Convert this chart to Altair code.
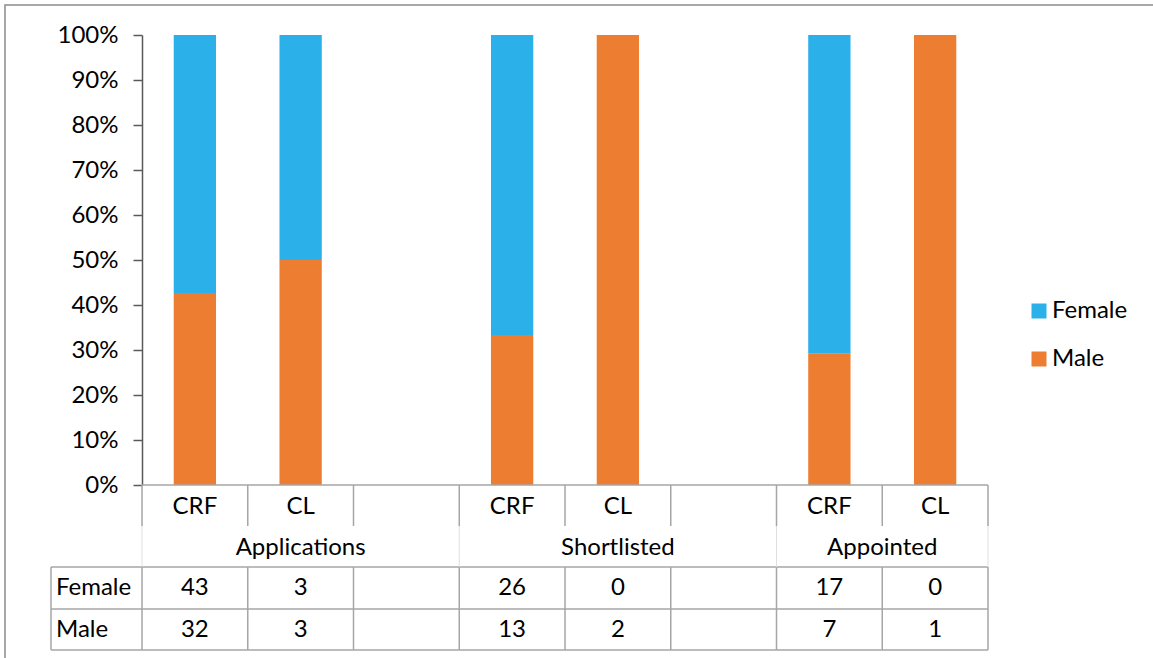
import altair as alt
import pandas as pd

# ---------------- data ----------------
groups = ["Applications", "Shortlisted", "Appointed"]
group_sizes = [3, 3, 2]
subcats = ["CRF", "CL", "", "CRF", "CL", "", "CRF", "CL"]
female = [43, 3, None, 26, 0, None, 17, 0]
male = [32, 3, None, 13, 2, None, 7, 1]
series = ["Female", "Male"]
series_colors = ["#2BB0EA", "#ED7D31"]
y_ticks = [0, 10, 20, 30, 40, 50, 60, 70, 80, 90, 100]

# ---------------- layout / style ----------------
FONT = "Lato"
FS = 24
TXT = "#000000"
GRID = "#a6a6a6"
FAINT = "#dedede"
PLOT_W, PLOT_H = 846, 450
PAD = {"left": 142, "top": 35, "right": 1153 - 142 - 846, "bottom": 658 - 35 - 450}
SLOTS = len(subcats)
UNIT_PX = PLOT_H / 100.0
LEFT_COL = -91 / (PLOT_W / SLOTS)      # left label column of the data table


def below(px):
    """pixels below the category axis -> y units"""
    return -px / UNIT_PX


row_edges = [below(0), below(41), below(82), below(124), below(165)]
sub_base = below(29)
grp_base = below(70)
row_base = [below(110), below(151.5)]

xs = alt.Scale(domain=[0, SLOTS], nice=False, zero=False)
ys = alt.Scale(domain=[0, 100], nice=False, zero=False)
y_axis = alt.Axis(
    values=y_ticks, labelExpr="datum.value + '%'", grid=False, title=None,
    domainColor="#595959", tickColor="#595959", tickSize=9, labelPadding=15,
    labelFontSize=FS, labelFont=FONT, labelColor=TXT, domainWidth=1.5, tickWidth=1.5)

# ---------------- bars ----------------
bar_rows = []
for i, (f, m) in enumerate(zip(female, male)):
    if f is None:
        continue
    tot = f + m
    mp = m / tot * 100
    bar_rows.append({"slot": i, "series": "Male", "y0": 0, "y1": mp})
    bar_rows.append({"slot": i, "series": "Female", "y0": mp, "y1": 100})
bars_df = pd.DataFrame(bar_rows)

bars = alt.Chart(bars_df).transform_calculate(
    xa="datum.slot + 0.3", xb="datum.slot + 0.7"
).mark_bar().encode(
    x=alt.X("xa:Q", scale=xs, axis=None),
    x2="xb:Q",
    y=alt.Y("y0:Q", scale=ys, axis=y_axis),
    y2="y1:Q",
    color=alt.Color("series:N", scale=alt.Scale(domain=series, range=series_colors),
                    legend=alt.Legend(orient="none", legendX=885, legendY=264, title=None,
                                      symbolType="square", symbolSize=225, symbolStrokeWidth=0,
                                      labelFontSize=FS, labelFont=FONT, labelColor=TXT,
                                      rowPadding=24, labelOffset=1, padding=0)),
)

# ---------------- table lines ----------------
segs = []
faint = []
segs.append({"x0": 0, "x1": SLOTS, "y0": row_edges[0], "y1": row_edges[0]})
for e in row_edges[2:]:
    segs.append({"x0": LEFT_COL, "x1": SLOTS, "y0": e, "y1": e})
for b in range(SLOTS + 1):
    segs.append({"x0": b, "x1": b, "y0": row_edges[0], "y1": row_edges[1]})
    segs.append({"x0": b, "x1": b, "y0": row_edges[2], "y1": row_edges[4]})
segs.append({"x0": LEFT_COL, "x1": LEFT_COL, "y0": row_edges[2], "y1": row_edges[4]})
gb = [0]
for s in group_sizes:
    gb.append(gb[-1] + s)
for b in gb:
    faint.append({"x0": b, "x1": b, "y0": row_edges[1], "y1": row_edges[2]})


def rule_layer(df, color, w):
    return alt.Chart(pd.DataFrame(df)).mark_rule(color=color, strokeWidth=w).encode(
        x=alt.X("x0:Q", scale=xs, axis=None), x2="x1:Q",
        y=alt.Y("y0:Q", scale=ys, axis=y_axis), y2="y1:Q")


lines = rule_layer(segs, GRID, 1.5)
faint_lines = rule_layer(faint, FAINT, 1)

# ---------------- table texts ----------------
txt = []
for i, s in enumerate(subcats):
    if s:
        txt.append({"x": i + 0.5, "y": sub_base, "t": s})
for g, a, b in zip(groups, gb[:-1], gb[1:]):
    txt.append({"x": (a + b) / 2, "y": grp_base, "t": g})
for r, vals in enumerate([female, male]):
    for i, v in enumerate(vals):
        if v is not None:
            txt.append({"x": i + 0.5, "y": row_base[r], "t": str(v)})

center_txt = alt.Chart(pd.DataFrame(txt)).mark_text(
    font=FONT, fontSize=FS, color=TXT, align="center", baseline="alphabetic"
).encode(x=alt.X("x:Q", scale=xs, axis=None), y=alt.Y("y:Q", scale=ys, axis=y_axis), text="t:N")

row_lbl = pd.DataFrame({"x": [LEFT_COL, LEFT_COL], "y": row_base, "t": series})
left_txt = alt.Chart(row_lbl).mark_text(
    font=FONT, fontSize=FS, color=TXT, align="left", baseline="alphabetic", dx=5
).encode(x=alt.X("x:Q", scale=xs, axis=None), y=alt.Y("y:Q", scale=ys, axis=y_axis), text="t:N")

# ---------------- outer frame ----------------
frame = alt.Chart(pd.DataFrame({"a": [0]})).mark_rect(
    fill="transparent", stroke="#8c8c8c", strokeWidth=1.5
).encode(x=alt.value(-137), x2=alt.value(1040), y=alt.value(-30), y2=alt.value(660))

chart = alt.layer(frame, bars, lines, faint_lines, center_txt, left_txt).properties(
    width=PLOT_W, height=PLOT_H,
    autosize=alt.AutoSizeParams(type="none"),
    padding=PAD,
    background="white",
).configure_view(strokeWidth=0)

chart.save("out.html", embed_options={"renderer": "svg", "actions": False})
